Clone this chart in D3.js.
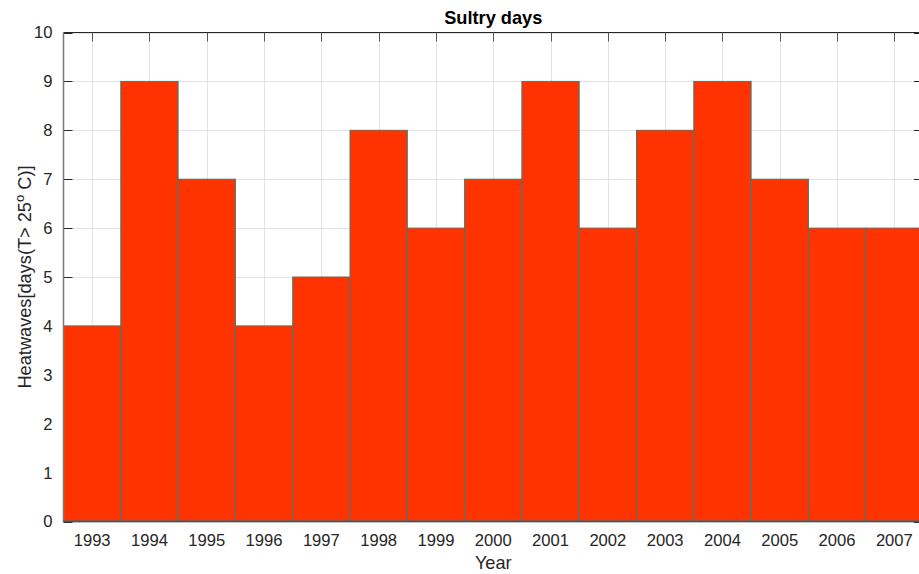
<!DOCTYPE html>
<html>
<head>
<meta charset="utf-8">
<script src="https://cdn.jsdelivr.net/npm/d3@7/dist/d3.min.js"></script>
<style>
    body { margin: 0; background: #ffffff; }
    svg { display: block; font-family: "Liberation Sans", Arial, Helvetica, sans-serif; }
    .tick-label { font-size: 16.6px; fill: #262626; }
    .axis-label { font-size: 18.2px; fill: #262626; }
    .title { font-size: 18.2px; font-weight: bold; fill: #000000; }
</style>
</head>
<body>
<div id="chart"></div>
<script>
const years = [1993, 1994, 1995, 1996, 1997, 1998, 1999, 2000, 2001, 2002, 2003, 2004, 2005, 2006, 2007];
const sultryDays = [4, 9, 7, 4, 5, 8, 6, 7, 9, 6, 8, 9, 7, 6, 6];
const yTicks = [0, 1, 2, 3, 4, 5, 6, 7, 8, 9, 10];

const width = 919, height = 574;
const plotLeft = 63.5, plotRight = 923, plotTop = 32.5, plotBottom = 521.5;
const tickLen = 9;

const svg = d3.select("#chart").append("svg")
    .attr("width", width)
    .attr("height", height);

const x = d3.scaleLinear().domain([years[0] - 0.5, years[years.length - 1] + 0.5]).range([plotLeft, plotRight]);
const y = d3.scaleLinear().domain([0, 10]).range([plotBottom, plotTop]);
const barW = x(1) - x(0);

// grid first, MATLAB keeps it under the bars
const grid = svg.append("g").attr("class", "grid")
    .attr("stroke", "#e3e3e3").attr("stroke-width", 1);

grid.selectAll(".vgrid")
    .data(years)
    .enter().append("line")
    .attr("x1", function (d) { return Math.round(x(d)) + 0.5; })
    .attr("x2", function (d) { return Math.round(x(d)) + 0.5; })
    .attr("y1", plotTop).attr("y2", plotBottom);

grid.selectAll(".hgrid")
    .data(yTicks)
    .enter().append("line")
    .attr("x1", plotLeft).attr("x2", plotRight)
    .attr("y1", function (d) { return Math.round(y(d)) + 0.5; })
    .attr("y2", function (d) { return Math.round(y(d)) + 0.5; });

// top axis line with its ticks
svg.append("line")
    .attr("x1", plotLeft).attr("x2", plotRight)
    .attr("y1", plotTop).attr("y2", plotTop)
    .attr("stroke", "#262626");

svg.append("g").selectAll("line")
    .data(years)
    .enter().append("line")
    .attr("x1", function (d) { return Math.round(x(d)) + 0.5; })
    .attr("x2", function (d) { return Math.round(x(d)) + 0.5; })
    .attr("y1", plotTop).attr("y2", plotTop + tickLen)
    .attr("stroke", "#555555");

// y ticks on both sides
svg.append("g").selectAll("line")
    .data(yTicks)
    .enter().append("line")
    .attr("x1", plotLeft).attr("x2", plotLeft + tickLen)
    .attr("y1", function (d) { return Math.round(y(d)) + 0.5; })
    .attr("y2", function (d) { return Math.round(y(d)) + 0.5; })
    .attr("stroke", "#262626");

svg.append("g").selectAll("line")
    .data(yTicks)
    .enter().append("line")
    .attr("x1", plotRight).attr("x2", plotRight - tickLen)
    .attr("y1", function (d) { return Math.round(y(d)) + 0.5; })
    .attr("y2", function (d) { return Math.round(y(d)) + 0.5; })
    .attr("stroke", "#262626");

// bars
svg.append("g").attr("class", "bars")
    .selectAll("rect")
    .data(years.map(function (yr, i) { return {year: yr, value: sultryDays[i]}; }))
    .enter().append("rect")
    .attr("x", function (d) { return x(d.year - 0.5); })
    .attr("y", function (d) { return y(d.value); })
    .attr("width", barW)
    .attr("height", function (d) { return y(0) - y(d.value); })
    .attr("fill", "#ff3300")
    .attr("stroke", "#3a7c7a")
    .attr("stroke-width", 1);

// left and bottom axis lines
svg.append("line")
    .attr("x1", plotLeft).attr("x2", plotLeft)
    .attr("y1", plotTop).attr("y2", plotBottom)
    .attr("stroke", "#7a7a7a").attr("stroke-width", 1.5);

svg.append("line")
    .attr("x1", plotLeft).attr("x2", plotRight)
    .attr("y1", plotBottom).attr("y2", plotBottom)
    .attr("stroke", "#2f5f5e").attr("stroke-width", 1.5);

// tick labels
svg.append("g").selectAll("text")
    .data(years)
    .enter().append("text")
    .attr("class", "tick-label")
    .attr("x", function (d) { return x(d); })
    .attr("y", 546)
    .attr("text-anchor", "middle")
    .text(function (d) { return d; });

svg.append("g").selectAll("text")
    .data(yTicks)
    .enter().append("text")
    .attr("class", "tick-label")
    .attr("x", plotLeft - 11)
    .attr("y", function (d) { return y(d); })
    .attr("dy", "0.36em")
    .attr("text-anchor", "end")
    .text(function (d) { return d; });

// title and axis labels
svg.append("text")
    .attr("class", "title")
    .attr("x", (plotLeft + plotRight) / 2)
    .attr("y", 24)
    .attr("text-anchor", "middle")
    .text("Sultry days");

svg.append("text")
    .attr("class", "axis-label")
    .attr("x", (plotLeft + plotRight) / 2)
    .attr("y", 569)
    .attr("text-anchor", "middle")
    .text("Year");

const yLabel = svg.append("text")
    .attr("class", "axis-label")
    .attr("transform", "translate(31," + ((plotTop + plotBottom) / 2) + ") rotate(-90)")
    .attr("text-anchor", "middle");
yLabel.append("tspan").text("Heatwaves[days(T> 25");
yLabel.append("tspan").attr("dy", -7).attr("font-size", "13px").text("o");
yLabel.append("tspan").attr("dy", 7).text(" C)]");
</script>
</body>
</html>
